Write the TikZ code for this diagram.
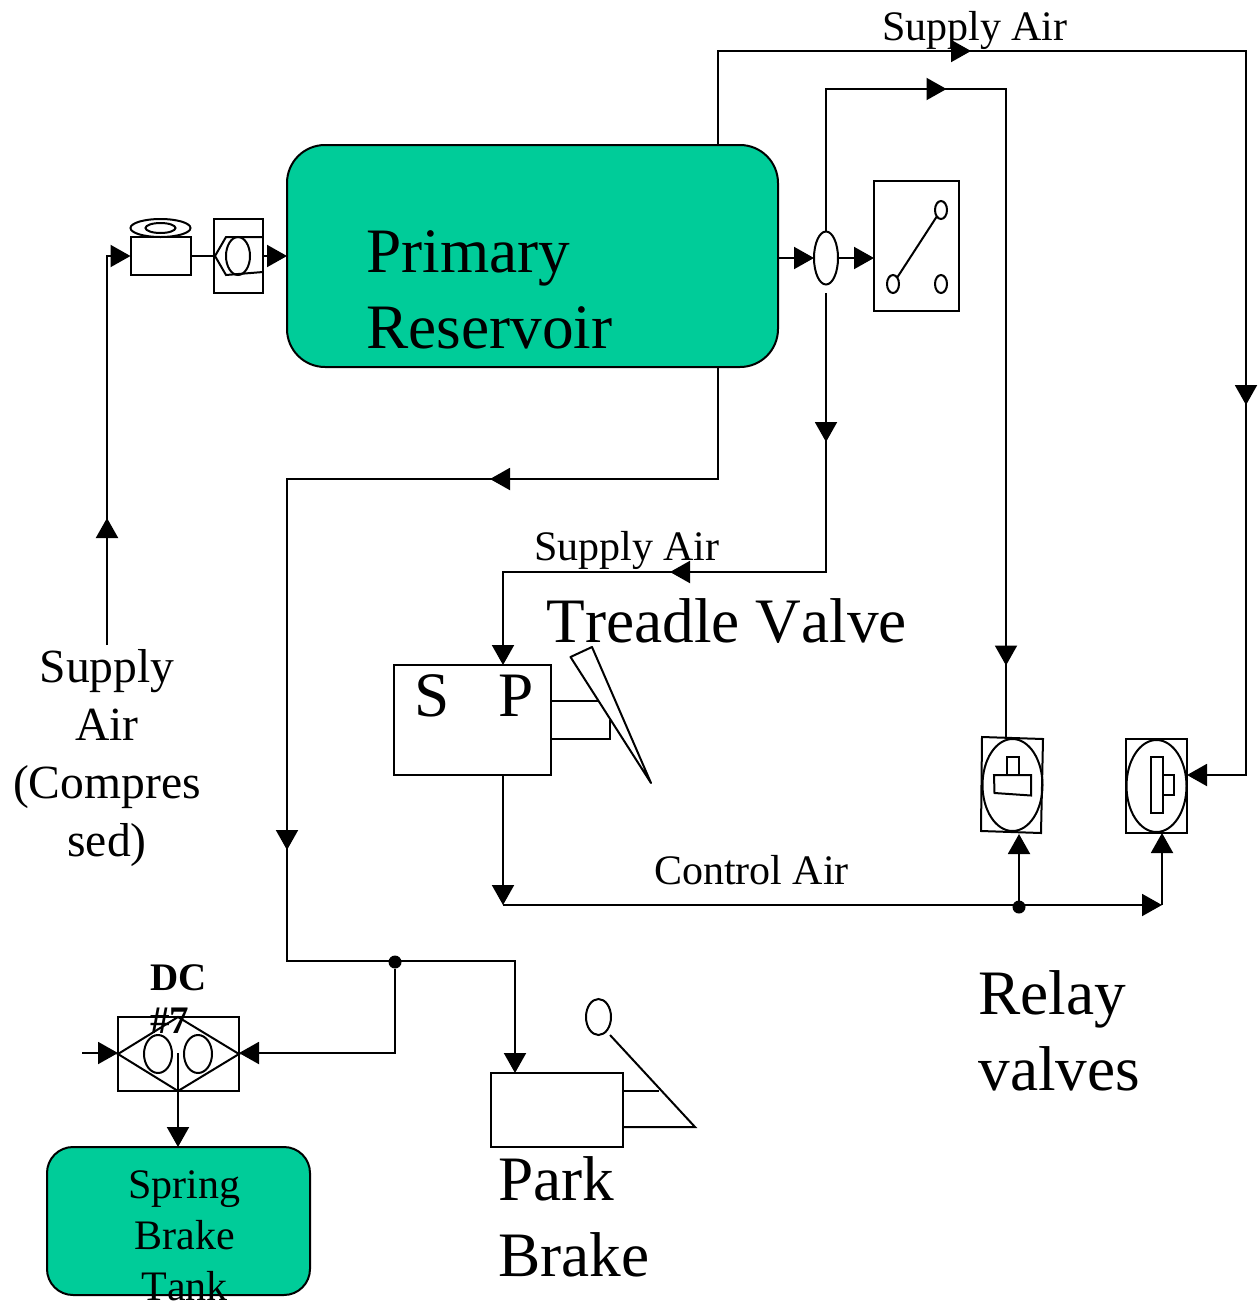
\documentclass[tikz,border=0pt]{standalone}
\usepackage{fontspec}
\setmainfont[Kerning=Off]{Liberation Serif}
\usetikzlibrary{arrows.meta,decorations.markings,shapes.geometric}
\definecolor{teal}{HTML}{00CC99}
\newcommand{\fsz}[2]{\fontsize{#1pt}{#2pt}\selectfont}
\tikzset{
  every node/.style={inner sep=0pt,outer sep=0pt},
  part/.style={draw,line width=2pt,rectangle,minimum width=#1},
  oval/.style={draw,line width=2pt,ellipse},
  tank/.style={draw=black,line width=2pt,fill=teal,rectangle,rounded corners=#1},
  conn/.style={draw,line width=2pt,-{Triangle[length=20pt,width=22pt]}},
  plain/.style={draw,line width=2pt},
  tipat/.style={postaction={decorate,decoration={markings,mark=at position #1 with {\arrow{Triangle[length=20pt,width=22pt]}}}}},
  joint/.style={circle,fill=black,minimum size=13pt},
  big/.style={font=\fsz{63.3}{76},align=left,anchor=base west},
  mid/.style={font=\fsz{42}{51}},
  lab/.style={font=\fsz{47.6}{58},align=center}
}
\begin{document}
\begin{tikzpicture}[x=1pt,y=-1pt]
\useasboundingbox (0,0) rectangle (1259,1304);
% components
\node[tank=38pt,minimum width=491pt,minimum height=222pt] (res) at (532.5,256) {};
\node[tank=26pt,minimum width=263pt,minimum height=148pt] (sbt) at (178.5,1221) {};
\node[part=60pt,minimum height=38pt] (comp) at (160.5,256) {};
\node[oval,minimum width=60pt,minimum height=18pt] (compa) at (160.5,228) {};
\node[oval,minimum width=30pt,minimum height=10pt] (compb) at (160.5,228) {};
\node[part=49pt,minimum height=74pt] (chk) at (238.5,256) {};
\node[oval,minimum width=24pt,minimum height=38pt] (chkb) at (238,256) {};
\draw[plain] (263,237) -- (226,237) -- (215,256) -- (226,275) -- (263,272);
\node[oval,minimum width=24pt,minimum height=53pt] (tee) at (826,258) {};
\node[part=85pt,minimum height=130pt] (sw) at (916.5,246) {};
\node[oval,minimum width=12pt,minimum height=18pt] (swa) at (941,210) {};
\node[oval,minimum width=12pt,minimum height=18pt] (swb) at (893,284) {};
\node[oval,minimum width=12pt,minimum height=18pt] (swc) at (941,284) {};
\draw[plain] (swb) -- (swa);
\node[part=157pt,minimum height=110pt] (sp) at (472.5,720) {};
\draw[plain] (sp.east |- 0,701) -- (598,701);
\draw[plain] (sp.east |- 0,739) -- (610,739) -- (610,720);
\draw[plain,line join=round] (570.5,657) -- (592,647) -- (651,783) -- cycle;
\draw[plain] (982,737) -- (1043,739) -- (1041,833) -- (981,831) -- cycle;
\coordinate (roneTop) at (1006,737);
\coordinate (roneBot) at (1019,834);
\node[oval,minimum width=60pt,minimum height=92pt] (rone) at (1012.5,785) {};
\draw[plain] (1007,775) -- (1007,757) -- (1019,757) -- (1019,775);
\draw[plain] (994,775) -- (1031,775) -- (1031,795.5) -- (994.5,793) -- cycle;
\node[part=61pt,minimum height=94pt] (rtwo) at (1156.5,786) {};
\node[oval,minimum width=60pt,minimum height=92pt] (rtwoe) at (1156.5,786) {};
\node[part=12pt,minimum height=56pt] (rtwoa) at (1157,785) {};
\node[part=11pt,minimum height=20pt] (rtwob) at (1168.5,785) {};
\node[part=121pt,minimum height=74pt] (dc) at (178.5,1054) {};
\draw[plain] (dc.west) -- (178,1017) -- (dc.east) -- (178,1091) -- cycle;
\node[oval,minimum width=28pt,minimum height=38pt] (dca) at (158,1054) {};
\node[oval,minimum width=28pt,minimum height=38pt] (dcb) at (198,1054) {};
\node[part=132pt,minimum height=74pt] (pk) at (557,1110) {};
\node[oval,minimum width=25pt,minimum height=36pt] (pkb) at (598.5,1017) {};
\draw[plain] (610,1035) -- (695,1127) -- (pk.east |- 0,1127);
\draw[plain] (pk.east |- 0,1091) -- (659,1091);
% junctions
\node[joint] (jta) at (395,962) {};
\node[joint] (jtb) at (1019,907) {};
\coordinate (ua) at (107,645);
\coordinate (ub) at (107,256);
\coordinate (ta) at (718,51);
\coordinate (tb) at (1246,51);
\coordinate (tc) at (1246,775);
\coordinate (sa) at (826,89);
\coordinate (sb) at (1006,89);
\coordinate (da) at (826,293);
\coordinate (db) at (826,572);
\coordinate (dc1) at (503,572);
\coordinate (ra) at (718,367);
\coordinate (rb) at (718,479);
\coordinate (rc) at (287,479);
\coordinate (rd) at (287,961);
\coordinate (re) at (515,961);
\coordinate (ca) at (503,905);
\coordinate (cb) at (1162,905);
\coordinate (dca1) at (395,1053);
\coordinate (dcin) at (82,1053);
% connectors
\draw[conn,tipat=127pt] (ua) -- (ub) -- (comp.west);
\draw[plain] (comp.east) -- (215,256);
\draw[conn] (chk.east) -- (res.west);
\draw[conn,tipat=347pt,tipat=976pt] (res.north -| ta) -- (ta) -- (tb) -- (tc) -- (tc -| rtwo.east);
\draw[plain,tipat=263pt,tipat=899pt] (tee.north) -- (sa) -- (sb) -- (roneTop);
\draw[conn] (res.east |- tee.west) -- (tee.west);
\draw[conn] (tee.east) -- (sw.west |- tee.east);
\draw[conn,tipat=149pt,tipat=435pt] (da) -- (db) -- (dc1) -- (dc1 |- sp.north);
\draw[conn,tipat=340pt,tipat=914pt] (ra) -- (rb) -- (rc) -- (rd) -- (re) -- (re |- pk.north);
\draw[conn] (jta) -- (dca1) -- (dc.east |- dca1);
\draw[conn] (dcin) -- (dc.west |- dcin);
\draw[conn] (178,1053) -- (sbt.north -| 178,0);
\draw[conn] (sp.south -| ca) -- (ca);
\draw[conn] (ca) -- (cb);
\draw[conn] (cb) -- (rtwo.south -| cb);
\draw[conn] (jtb) -- (roneBot);
% labels
\node[big] (tres) at (366.5,348) {Primary\\Reservoir};
\node[mid,anchor=base west] (tsa) at (882,40) {Supply Air};
\node[mid,anchor=base west] (tsb) at (534,560) {Supply Air};
\node[big] (ttv) at (546.5,642) {Treadle Valve};
\node[big] (tsp) at (414,716) {S\hspace{49pt}P};
\node[mid,anchor=base west] (tca) at (654,884) {Control Air};
\node[big] (trv) at (978.5,1090) {Relay\\valves};
\node[big] (tpb) at (498.5,1276) {Park\\Brake};
\node[lab,anchor=base] (tsup) at (107,856) {Supply\\Air\\(Compres\\sed)};
\node[font=\fsz{39}{43}\bfseries,align=left,anchor=base west] (tdc) at (150,1033) {DC\\\#7};
\node[mid,align=center,anchor=base] (tsbt) at (184.5,1300.5) {Spring\\Brake\\Tank};
\end{tikzpicture}
\end{document}
